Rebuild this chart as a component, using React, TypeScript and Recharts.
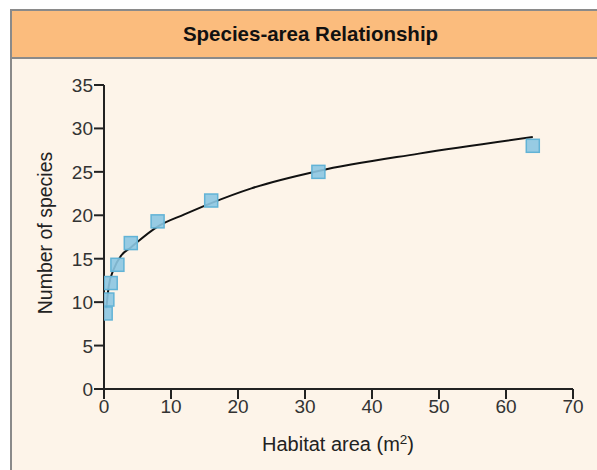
import { ComposedChart, Line, Scatter, XAxis, YAxis } from "recharts";

// measured species counts per habitat area (m2)
const areas = [0.25, 0.5, 1, 2, 4, 8, 16, 32, 64];
const species = [8.7, 10.3, 12.2, 14.3, 16.8, 19.3, 21.7, 25.0, 28.0];

// fitted curve
const curveX = [0.35, 0.7, 1.4, 2.6, 4, 8, 12, 16, 22, 32, 47, 64];
const curveY = [9.3, 11.8, 13.7, 15.4, 16.3, 18.7, 20.1, 21.4, 23.1, 25.1, 27.1, 29.0];

const xTicks = [0, 10, 20, 30, 40, 50, 60, 70];
const yTicks = [0, 5, 10, 15, 20, 25, 30, 35];

const points = areas.map((x, i) => ({ x, y: species[i] }));
const curve = curveX.map((x, i) => ({ x, y: curveY[i] }));

const font = "'Liberation Sans', Arial, sans-serif";

const Square = (props: any) => {
  const { cx, cy } = props;
  return (
    <rect
      x={cx - 6.5}
      y={cy - 6.5}
      width={13}
      height={13}
      fill="#8cc6e2"
      fillOpacity={0.9}
      stroke="#62b3d6"
      strokeWidth={1.5}
    />
  );
};

const XTick = (props: any) => {
  const { x, y, payload } = props;
  return (
    <text x={x} y={y + 14} textAnchor="middle" fontSize={19} fill="#333" fontFamily={font}>
      {payload.value}
    </text>
  );
};

const YTick = (props: any) => {
  const { x, y, payload } = props;
  return (
    <text x={x} y={y + 7} textAnchor="end" fontSize={19} fill="#333" fontFamily={font}>
      {payload.value}
    </text>
  );
};

const XLabel = () => (
  <text x={262} y={451} fontSize={20} fill="#222" fontFamily={font}>
    Habitat area (m
    <tspan dy={-7} fontSize={13.5}>2</tspan>
    <tspan dy={7}>)</tspan>
  </text>
);

const YLabel = () => (
  <text
    x={52}
    y={233}
    transform="rotate(-90, 52, 233)"
    textAnchor="middle"
    fontSize={19.5}
    fill="#222"
    fontFamily={font}
  >
    Number of species
  </text>
);

export default function App() {
  return (
    <div style={{ position: "fixed", inset: 0, overflow: "hidden", background: "#fff" }}>
      <div
        style={{
          position: "absolute",
          left: 10,
          top: 9,
          width: 601,
          height: 480,
          border: "2px solid #8a8a8a",
          background: "#fdf4e9",
          boxSizing: "border-box",
        }}
      >
        <div
          style={{
            height: 46,
            background: "#fbbc7d",
            borderBottom: "2px solid #8a8a8a",
            display: "flex",
            alignItems: "center",
            justifyContent: "center",
            fontFamily: font,
            fontWeight: "bold",
            fontSize: 20.5,
            color: "#111",
          }}
        >
          Species-area Relationship
        </div>
      </div>
      <div style={{ position: "absolute", left: 0, top: 0 }}>
        <ComposedChart
          width={597}
          height={470}
          margin={{ top: 85, right: 24, bottom: 21, left: 44 }}
        >
          <XAxis
            type="number"
            dataKey="x"
            domain={[0, 70]}
            ticks={xTicks}
            allowDataOverflow
            height={60}
            stroke="#222"
            strokeWidth={2}
            tickSize={10}
            tickMargin={0}
            tick={<XTick />}
            label={<XLabel />}
          />
          <YAxis
            type="number"
            domain={[0, 35]}
            ticks={yTicks}
            width={60}
            stroke="#222"
            strokeWidth={2}
            tickSize={10}
            tickMargin={1}
            tick={<YTick />}
            label={<YLabel />}
          />
          <Scatter
            data={points}
            dataKey="y"
            shape={<Square />}
            isAnimationActive={false}
          />
          <Line
            data={curve}
            dataKey="y"
            type="monotone"
            stroke="#111"
            strokeWidth={2}
            dot={false}
            activeDot={false}
            isAnimationActive={false}
          />
        </ComposedChart>
      </div>
    </div>
  );
}
